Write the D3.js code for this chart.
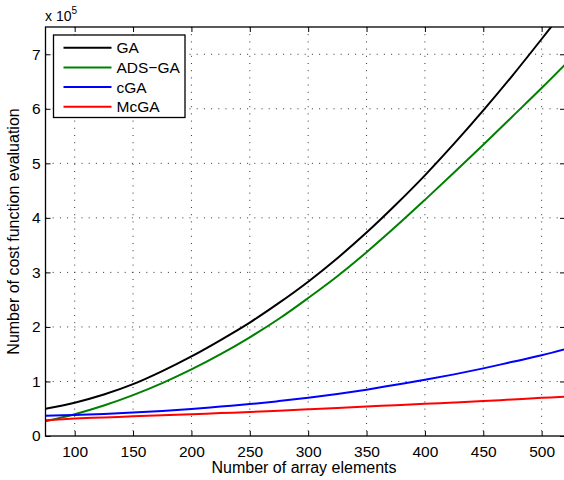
<!DOCTYPE html>
<html lang="en">
<head>
<meta charset="utf-8">
<script src="https://d3js.org/d3.v7.min.js"></script>
<style>
  body { margin:0; background:#fff; }
  svg { display:block; font-family:"Liberation Sans", Arial, sans-serif; }
  .grid line { stroke:#333; stroke-width:1; stroke-dasharray:1,6.2; }
</style>
<title>Cost function evaluations</title>
</head>
<body>
<script>

// array sizes on the x axis
let arraySizes = [75, 100, 125, 150, 175, 200, 225, 250, 275, 300, 325, 350, 375, 400, 425, 450, 475, 500, 520];

// evaluations, in units of 10^5
let gaValues    = [0.50, 0.61, 0.76, 0.95, 1.19, 1.46, 1.76, 2.08, 2.44, 2.83, 3.26, 3.73, 4.24, 4.78, 5.36, 5.97, 6.61, 7.28, 7.83];
let adsgaValues = [0.27, 0.40, 0.56, 0.75, 0.97, 1.22, 1.50, 1.81, 2.15, 2.53, 2.93, 3.37, 3.84, 4.33, 4.83, 5.34, 5.86, 6.38, 6.81];
let cgaValues   = [0.37, 0.385, 0.405, 0.43, 0.46, 0.495, 0.54, 0.585, 0.64, 0.70, 0.77, 0.85, 0.94, 1.03, 1.13, 1.24, 1.36, 1.48, 1.59];
let mcgaValues  = [0.29, 0.32, 0.34, 0.36, 0.38, 0.40, 0.42, 0.44, 0.465, 0.49, 0.515, 0.54, 0.565, 0.59, 0.615, 0.64, 0.67, 0.70, 0.72];

let seriesNames  = ["GA", "ADS\u2212GA", "cGA", "McGA"];
let seriesColors = ["#000000", "#008000", "#0000ff", "#ff0000"];
let seriesValues = [gaValues, adsgaValues, cgaValues, mcgaValues];

let xTicks = [100, 150, 200, 250, 300, 350, 400, 450, 500];
let yTicks = [0, 1, 2, 3, 4, 5, 6, 7];

let width = 564, height = 480;
let plotLeft = 45.5, plotRight = 565, plotTop = 27, plotBottom = 436;

let svg = d3.select("body").append("svg")
    .attr("width", width)
    .attr("height", height);

let x = d3.scaleLinear().domain([75, 520]).range([plotLeft, plotRight]);
let y = d3.scaleLinear().domain([0, 7.5]).range([plotBottom, plotTop]);

// dotted grid
let grid = svg.append("g").attr("class", "grid");
grid.selectAll(".vx").data(xTicks).enter().append("line")
    .attr("x1", d => x(d)).attr("x2", d => x(d))
    .attr("y1", plotTop).attr("y2", plotBottom);
grid.selectAll(".hy").data(yTicks.slice(1)).enter().append("line")
    .attr("x1", plotLeft).attr("x2", plotRight)
    .attr("y1", d => y(d)).attr("y2", d => y(d));

// curves, clipped to the plot box
svg.append("clipPath").attr("id", "plotclip")
  .append("rect")
    .attr("x", plotLeft).attr("y", plotTop)
    .attr("width", plotRight - plotLeft).attr("height", plotBottom - plotTop);

let line = d3.line()
    .x((d, i) => x(arraySizes[i]))
    .y(d => y(d))
    .curve(d3.curveCatmullRom.alpha(0.5));

svg.append("g").attr("clip-path", "url(#plotclip)")
  .selectAll("path")
  .data(seriesValues)
  .enter()
  .append("path")
    .attr("fill", "none")
    .attr("stroke", (d, i) => seriesColors[i])
    .attr("stroke-width", 2)
    .attr("d", line);

// axes: inward ticks on all four sides, MATLAB style
let tickLen = 5;
svg.append("g")
    .attr("transform", "translate(0," + plotBottom + ")")
    .call(d3.axisBottom(x).tickValues(xTicks).tickSizeInner(-tickLen).tickSizeOuter(0).tickPadding(10))
    .call(g => g.select(".domain").remove());
svg.append("g")
    .attr("transform", "translate(0," + plotTop + ")")
    .call(d3.axisTop(x).tickValues(xTicks).tickSizeInner(-tickLen).tickSizeOuter(0).tickFormat(""))
    .call(g => g.select(".domain").remove());
svg.append("g")
    .attr("transform", "translate(" + plotLeft + ",0)")
    .call(d3.axisLeft(y).tickValues(yTicks).tickSizeInner(-tickLen).tickSizeOuter(0).tickPadding(5))
    .call(g => g.select(".domain").remove());
svg.append("g")
    .attr("transform", "translate(" + plotRight + ",0)")
    .call(d3.axisRight(y).tickValues(yTicks).tickSizeInner(-tickLen).tickSizeOuter(0).tickFormat(""))
    .call(g => g.select(".domain").remove());

svg.selectAll(".tick text")
    .style("font-size", "15.5px")
    .style("font-family", "Liberation Sans, Arial, sans-serif")
    .attr("fill", "#000");
svg.selectAll(".tick line").attr("stroke", "#000");

svg.append("rect")
    .attr("x", plotLeft).attr("y", plotTop)
    .attr("width", plotRight - plotLeft).attr("height", plotBottom - plotTop)
    .attr("fill", "none")
    .attr("stroke", "#000")
    .attr("stroke-width", 1.3);

// exponent label
let expo = svg.append("text")
    .attr("x", 45).attr("y", 21)
    .style("font-size", "14px")
    .text("x 10");
expo.append("tspan")
    .attr("dy", -7)
    .style("font-size", "10px")
    .text("5");

// axis titles
svg.append("text")
    .attr("x", 304)
    .attr("y", 473)
    .attr("text-anchor", "middle")
    .style("font-size", "16px")
    .text("Number of array elements");

svg.append("text")
    .attr("transform", "translate(19," + ((plotTop + plotBottom) / 2) + ") rotate(-90)")
    .attr("text-anchor", "middle")
    .style("font-size", "16px")
    .text("Number of cost function evaluation");

// legend
let legend = svg.append("g").attr("transform", "translate(53.5,35)");
legend.append("rect")
    .attr("width", 131.5).attr("height", 82.5)
    .attr("fill", "#fff")
    .attr("stroke", "#000")
    .attr("stroke-width", 1.3);

let rows = legend.selectAll(".row")
    .data(seriesNames)
    .enter()
    .append("g")
    .attr("transform", (d, i) => "translate(0," + (12.7 + i * 19.7) + ")");
rows.append("line")
    .attr("x1", 10).attr("x2", 58)
    .attr("stroke", (d, i) => seriesColors[i])
    .attr("stroke-width", 2);
rows.append("text")
    .attr("x", 63)
    .attr("dy", "0.36em")
    .style("font-size", "15.5px")
    .text(d => d);

</script>
</body>
</html>
